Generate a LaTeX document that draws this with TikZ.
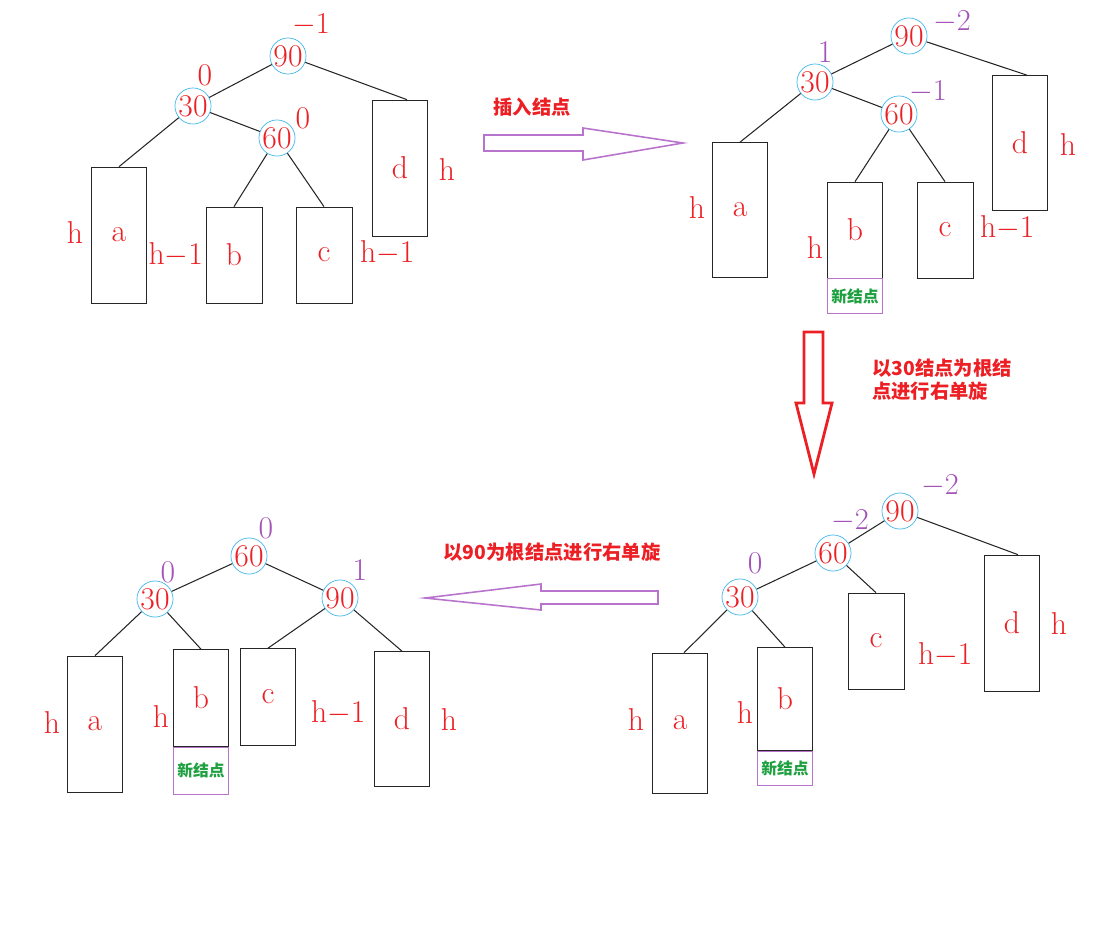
\documentclass[tikz,border=0pt]{standalone}
\usepackage{fontspec}
\newfontfamily\cjk{Noto Sans CJK SC}
\usetikzlibrary{positioning}
\definecolor{avlred}{RGB}{236,32,36}
\definecolor{ringblue}{RGB}{64,182,232}
\definecolor{balpurple}{RGB}{162,84,184}
\definecolor{arrowpurple}{RGB}{184,116,204}
\definecolor{newgreen}{RGB}{30,160,64}
\newcommand{\treefont}{\fontsize{18}{18}\selectfont}

\begin{document}
\begin{tikzpicture}[
  x=0.02cm, y=-0.02cm,
  key/.style={draw=ringblue, circle, minimum size=0.68cm, inner sep=0pt,
              text=avlred, font=\treefont},
  sub/.style={draw=black!85, minimum width=1.1cm, inner sep=0pt,
              text=avlred, font=\treefont},
  newbox/.style={draw=arrowpurple, minimum width=1.1cm, inner sep=0pt,
                 text=newgreen, font=\cjk\bfseries\fontsize{9}{9}\selectfont},
  bal/.style={text=balpurple, font=\treefont, inner sep=1pt},
  balred/.style={text=avlred, font=\treefont},
  hlab/.style={text=avlred, font=\treefont, inner sep=1pt},
  link/.style={draw=black!85, line width=0.6pt},
  fatarrow/.style={draw=arrowpurple, line width=0.9pt, fill=white},
  note/.style={text=avlred, font=\cjk\bfseries\fontsize{11}{13}\selectfont,
               align=left},
]
\useasboundingbox (0,0) rectangle (1098,924);

% Top left: balanced before insertion
\node[key] (k90a) at (288,56)  {90};
\node[key] (k30a) at (193,106) {30};
\node[key] (k60a) at (277,138) {60};
\node[balred] (f90a) at (311,25)  {$-1$};
\node[balred] (f30a) at (205,75)  {0};
\node[balred] (f60a) at (303,118) {0};
\node[sub, minimum height=2.72cm] (a1) at (119,235) {a};
\node[sub, minimum height=1.92cm, minimum width=1.12cm] (b1) at (234,255) {b};
\node[sub, minimum height=1.92cm, minimum width=1.12cm] (c1) at (324,255) {c};
\node[sub, minimum height=2.72cm] (d1) at (400,168) {d};
\node[hlab] (ha1) at (75,233)  {h};
\node[hlab, anchor=east] (hb1) at (205,255) {h$-$1};
\node[hlab, anchor=west] (hc1) at (358,253) {h$-$1};
\node[hlab] (hd1) at (447,170) {h};
\draw[link] (k90a) -- (k30a);
\draw[link] (k90a) -- ([xshift=0.14cm]d1.north);
\draw[link] (k30a) -- (a1.north);
\draw[link] (k30a) -- (k60a);
\draw[link] (k60a) -- (b1.north);
\draw[link] (k60a) -- (c1.north);

% Insert arrow
\draw[fatarrow] (484,135) -- (583,135) -- (583,128) -- (683,143)
  -- (583,160) -- (583,151) -- (484,151) -- cycle;
\node[note] (insert) at (532,107) {插入结点};

% Top right: after inserting into b
\node[key] (k90b) at (909,36)  {90};
\node[key] (k30b) at (815,82)  {30};
\node[key] (k60b) at (899,114) {60};
\node[bal] (f90b) at (952,22) {$-2$};
\node[bal] (f30b) at (825,52) {1};
\node[bal] (f60b) at (928,92) {$-1$};
\node[sub, minimum height=2.7cm] (a2) at (740,210) {a};
\node[sub, minimum height=1.92cm] (b2) at (855,230) {b};
\node[newbox, minimum height=0.7cm, anchor=north] (n2) at (b2.south) {新结点};
\node[sub, minimum height=1.92cm, minimum width=1.12cm] (c2) at (945,230) {c};
\node[sub, minimum height=2.7cm] (d2) at (1020,143) {d};
\node[hlab] (ha2) at (697,208)  {h};
\node[hlab] (hb2) at (815,248)  {h};
\node[hlab, anchor=west] (hc2) at (978,228) {h$-$1};
\node[hlab] (hd2) at (1068,145) {h};
\draw[link] (k90b) -- (k30b);
\draw[link] (k90b) -- ([xshift=0.14cm]d2.north);
\draw[link] (k30b) -- (a2.north);
\draw[link] (k30b) -- (k60b);
\draw[link] (k60b) -- (b2.north);
\draw[link] (k60b) -- (c2.north);

% Down arrow: rotate at 30
\draw[draw=avlred, line width=1.6pt, fill=white] (804,332) -- (823,332)
  -- (823,403) -- (832,403) -- (814,474) -- (796,403) -- (804,403) -- cycle;
\node[note, anchor=west] (rot30) at (866,380) {以30结点为根结\\点进行右单旋};

% Bottom right: after rotating at 30
\node[key] (k90c) at (900,511) {90};
\node[key] (k60c) at (833,553) {60};
\node[key] (k30c) at (740,597) {30};
\node[bal] (f90c) at (940,486) {$-2$};
\node[bal] (f60c) at (850,521) {$-2$};
\node[bal] (f30c) at (755,563) {0};
\node[sub, minimum height=2.8cm] (a3) at (680,723) {a};
\node[sub, minimum height=2.06cm] (b3) at (785,699) {b};
\node[newbox, minimum height=0.68cm, anchor=north] (n3) at (b3.south) {新结点};
\node[sub, minimum height=1.92cm, minimum width=1.12cm] (c3) at (876,641) {c};
\node[sub, minimum height=2.72cm] (d3) at (1012,623) {d};
\node[hlab] (ha3) at (636,720)  {h};
\node[hlab] (hb3) at (745,713)  {h};
\node[hlab, anchor=west] (hc3) at (916,655)  {h$-$1};
\node[hlab] (hd3) at (1059,624) {h};
\draw[link] (k90c) -- (k60c);
\draw[link] (k90c) -- ([xshift=0.12cm]d3.north);
\draw[link] (k60c) -- (k30c);
\draw[link] (k60c) -- (c3.north);
\draw[link] (k30c) -- ([xshift=0.08cm]a3.north);
\draw[link] (k30c) -- (b3.north);

% Left arrow: rotate at 90
\draw[fatarrow] (658,591) -- (541,591) -- (541,584) -- (425,598)
  -- (541,610) -- (541,604) -- (658,604) -- cycle;
\node[note] (rot90) at (552,552) {以90为根结点进行右单旋};

% Bottom left: balanced again
\node[key] (k60d) at (249,556) {60};
\node[key] (k30d) at (155,599) {30};
\node[key] (k90d) at (340,598) {90};
\node[bal] (f60d) at (266,528) {0};
\node[bal] (f30d) at (168,572) {0};
\node[bal] (f90d) at (360,570) {1};
\node[sub, minimum height=2.72cm] (a4) at (95,724) {a};
\node[sub, minimum height=1.94cm] (b4) at (201,698) {b};
\node[newbox, minimum height=0.94cm, anchor=north] (n4) at (b4.south) {新结点};
\node[sub, minimum height=1.94cm] (c4) at (268,697) {c};
\node[sub, minimum height=2.7cm] (d4) at (402,719) {d};
\node[hlab] (ha4) at (52,723)  {h};
\node[hlab] (hb4) at (161,717) {h};
\node[hlab, anchor=west] (hc4) at (309,713) {h$-$1};
\node[hlab] (hd4) at (449,720) {h};
\draw[link] (k60d) -- (k30d);
\draw[link] (k60d) -- (k90d);
\draw[link] (k30d) -- (a4.north);
\draw[link] (k30d) -- (b4.north);
\draw[link] (k90d) -- (c4.north);
\draw[link] (k90d) -- (d4.north);

\end{tikzpicture}
\end{document}
